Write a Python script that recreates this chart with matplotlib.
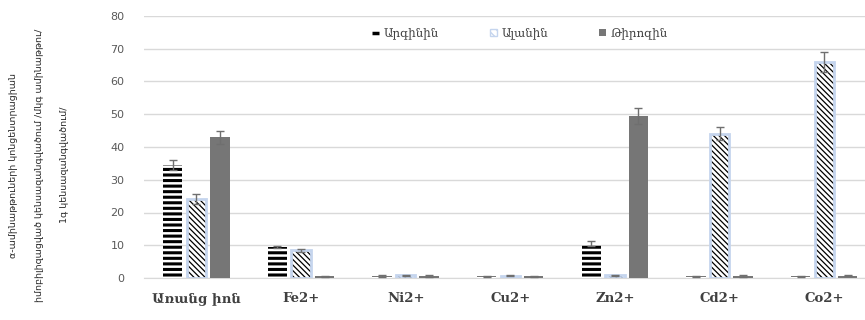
import matplotlib
matplotlib.use("Agg")
import matplotlib.pyplot as plt
import numpy as np
from matplotlib.patches import Patch
from matplotlib.lines import Line2D

categories = ["Առանց իոն", "Fe2+", "Ni2+", "Cu2+", "Zn2+", "Cd2+", "Co2+"]
series_names = ["Արգինին", "Ալանին", "Թիրոզին"]
arg_vals = [34.5, 9.5, 0.6, 0.5, 10.5, 0.5, 0.5]
arg_err = [1.5, 0.4, 0.2, 0.2, 0.8, 0.2, 0.2]
ala_vals = [24.0, 8.5, 0.8, 0.7, 0.8, 44.0, 66.0]
ala_err = [1.5, 0.5, 0.2, 0.2, 0.2, 2.0, 3.0]
tyr_vals = [43.0, 0.5, 0.6, 0.5, 49.5, 0.6, 0.7]
tyr_err = [2.0, 0.2, 0.2, 0.2, 2.5, 0.2, 0.2]
yticks = [0, 10, 20, 30, 40, 50, 60, 70, 80]
ylabel_lines = ["α-ամինաթթուների կոնցենտրացիան",
                "իմոբիլիզացված կենսազանգվածում /մկգ ամինաթթու/",
                "1գ կենսազանգվածում/"]

fig = plt.figure(figsize=(8.65, 3.2), dpi=100)
ax = fig.add_axes([144/865, 1-278/320, 1-144/865, (278-16)/320])

x = np.arange(len(categories))
w = 0.185
off = 0.225
ecol = "#6f6f6f"
ala_edge = "#c5d5ee"

with plt.rc_context({"hatch.linewidth": 2.2}):
    ax.bar(x - off, arg_vals, w, color="white", edgecolor="black", linewidth=0,
           hatch="---", zorder=3)
with plt.rc_context({"hatch.linewidth": 0.9}):
    ax.bar(x, ala_vals, w, color="white", edgecolor="black", linewidth=0,
           hatch="\\\\\\\\\\\\", zorder=3)
ax.bar(x, ala_vals, w, fill=False, edgecolor=ala_edge, linewidth=2.0, zorder=4)
ax.bar(x + off, tyr_vals, w, color="#767676", linewidth=0, zorder=3)

for xs, v, e in [(x - off, arg_vals, arg_err), (x, ala_vals, ala_err), (x + off, tyr_vals, tyr_err)]:
    ax.errorbar(xs, v, yerr=e, fmt="none", ecolor=ecol, elinewidth=1, capsize=3, capthick=1, zorder=5)

ax.set_ylim(0, 80)
ax.set_xlim(-0.5, 6.39)
ax.set_yticks(yticks)
ax.yaxis.grid(True, color="#d9d9d9", linewidth=1, zorder=0)
ax.set_axisbelow(True)
for s in ["top", "right", "left"]:
    ax.spines[s].set_visible(False)
ax.spines["bottom"].set_color("#d9d9d9")
ax.tick_params(axis="both", length=0)
ax.tick_params(axis="y", labelsize=8, labelcolor="#595959", pad=14)
ax.set_xticks(x)
ax.set_xticklabels(categories, fontsize=9.5, fontweight="bold", family="DejaVu Serif",
                   color="#404040")
ax.tick_params(axis="x", pad=10)

for line, xp in zip(ylabel_lines, [14, 40, 64]):
    fig.text(xp/865, 1 - 165/320, line, rotation=90, ha="center", va="center",
             fontsize=6.8, color="#262626", family="DejaVu Sans")

handles = [Line2D([0], [0], color="black", linewidth=2.5, solid_capstyle="butt"),
           Patch(facecolor="white", edgecolor=ala_edge, hatch="\\\\\\\\", linewidth=1),
           Patch(facecolor="#767676", edgecolor="none")]
leg = fig.legend(handles, series_names, loc="center", bbox_to_anchor=(520/865, 1-33/320),
                 ncol=3, frameon=False, handlelength=0.6, handleheight=0.6,
                 columnspacing=4.3, handletextpad=0.4, prop={"family": "DejaVu Serif", "size": 8.5})
for t in leg.get_texts():
    t.set_color("#404040")

fig.savefig("out.png", dpi=100)
